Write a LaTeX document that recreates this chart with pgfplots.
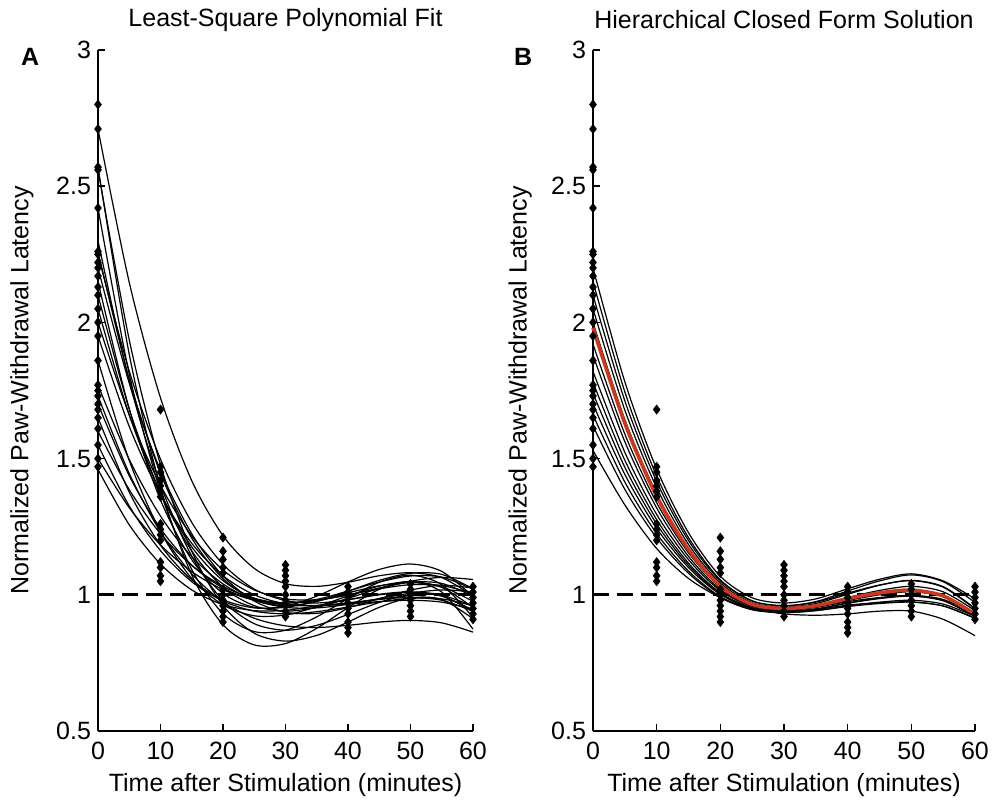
\documentclass[border=0pt]{standalone}
\usepackage{fontspec}
\setmainfont{Liberation Sans}
\usepackage{pgfplots}
\usepackage{pgfplotstable}
\pgfplotsset{compat=1.18}
\definecolor{fitred}{RGB}{200,58,32}

% measured points (same animals in both panels)
\pgfplotstableread{
x y
0 2.80
0 2.71
0 2.57
0 2.56
0 2.42
0 2.26
0 2.25
0 2.22
0 2.20
0 2.17
0 2.13
0 2.10
0 2.05
0 2.00
0 1.95
0 1.86
0 1.77
0 1.75
0 1.73
0 1.70
0 1.68
0 1.65
0 1.61
0 1.55
0 1.50
0 1.47
10 1.68
10 1.47
10 1.45
10 1.42
10 1.40
10 1.38
10 1.36
10 1.26
10 1.24
10 1.22
10 1.20
10 1.12
10 1.10
10 1.07
10 1.05
20 1.21
20 1.16
20 1.13
20 1.10
20 1.08
20 1.02
20 1.00
20 0.98
20 0.96
20 0.94
20 0.92
20 0.90
30 1.11
30 1.09
30 1.07
30 1.05
30 1.03
30 1.00
30 0.98
30 0.96
30 0.94
30 0.92
40 1.03
40 1.01
40 0.99
40 0.97
40 0.95
40 0.93
40 0.90
40 0.88
40 0.86
50 1.04
50 1.02
50 1.00
50 0.98
50 0.96
50 0.94
50 0.92
60 1.03
60 1.01
60 0.99
60 0.97
60 0.95
60 0.93
60 0.91
}\pts

% individual least-square fits, panel A
\pgfplotstableread{
x  A1    A2    A3    A4    A5    A6    A7    A8    A9    A10   A11   A12   A13   A14   A15   A16   A17   A18   A19   A20   A21   A22
0  2.710 2.570 2.560 2.420 2.260 2.250 2.200 2.150 2.100 2.050 1.950 1.860 1.770 1.730 1.700 1.650 1.600 1.550 1.500 1.460 2.300 2.000
5  2.147 1.883 1.936 1.811 1.791 1.821 1.777 1.682 1.682 1.660 1.618 1.493 1.497 1.445 1.437 1.377 1.386 1.326 1.320 1.257 1.784 1.660
10 1.723 1.394 1.477 1.378 1.446 1.498 1.456 1.348 1.374 1.374 1.368 1.232 1.289 1.231 1.243 1.182 1.224 1.162 1.183 1.113 1.405 1.402
15 1.419 1.073 1.160 1.093 1.208 1.266 1.224 1.129 1.161 1.176 1.189 1.060 1.140 1.077 1.109 1.055 1.108 1.048 1.085 1.018 1.142 1.216
20 1.217 0.890 0.961 0.931 1.059 1.112 1.069 1.005 1.028 1.052 1.070 0.963 1.040 0.974 1.025 0.982 1.031 0.977 1.019 0.964 0.978 1.091
25 1.097 0.816 0.859 0.865 0.982 1.021 0.977 0.954 0.960 0.988 1.000 0.923 0.980 0.914 0.982 0.952 0.986 0.940 0.980 0.942 0.894 1.018
30 1.041 0.821 0.830 0.870 0.960 0.979 0.936 0.958 0.940 0.970 0.967 0.926 0.954 0.886 0.970 0.954 0.964 0.930 0.963 0.943 0.870 0.985
35 1.031 0.877 0.851 0.919 0.976 0.970 0.932 0.995 0.954 0.983 0.960 0.956 0.952 0.880 0.979 0.976 0.960 0.938 0.961 0.960 0.888 0.982
40 1.046 0.953 0.900 0.986 1.013 0.982 0.953 1.047 0.987 1.014 0.970 0.996 0.965 0.888 1.000 1.007 0.966 0.955 0.970 0.982 0.928 0.999
45 1.070 1.020 0.954 1.046 1.053 1.000 0.986 1.093 1.023 1.047 0.983 1.032 0.986 0.900 1.022 1.033 0.975 0.974 0.984 1.002 0.972 1.025
50 1.081 1.049 0.989 1.072 1.079 1.009 1.017 1.113 1.046 1.069 0.990 1.048 1.006 0.906 1.037 1.045 0.980 0.987 0.997 1.011 1.001 1.050
55 1.063 1.010 0.983 1.037 1.075 0.995 1.035 1.086 1.042 1.065 0.980 1.027 1.018 0.897 1.034 1.030 0.973 0.985 1.004 0.999 0.996 1.064
60 0.996 0.874 0.912 0.917 1.022 0.944 1.025 0.994 0.995 1.021 0.940 0.954 1.011 0.863 1.005 0.976 0.947 0.960 1.000 0.959 0.938 1.056
}\tabA

% hierarchical fits, panel B (R = population curve)
\pgfplotstableread{
x  B1    B2    B3    B4    B5    B6    B7    B8    B9    B10   B11   B12   B13   B14   R
0  2.200 2.150 2.100 2.050 2.000 1.920 1.880 1.820 1.780 1.740 1.700 1.660 1.620 1.530 1.980
5  1.782 1.745 1.712 1.678 1.643 1.590 1.562 1.523 1.494 1.468 1.442 1.414 1.387 1.330 1.630
10 1.462 1.436 1.416 1.393 1.370 1.338 1.319 1.295 1.276 1.260 1.244 1.225 1.209 1.170 1.362
15 1.228 1.210 1.199 1.185 1.171 1.154 1.141 1.129 1.116 1.108 1.100 1.087 1.079 1.060 1.166
20 1.068 1.055 1.051 1.043 1.034 1.028 1.020 1.015 1.007 1.004 1.001 0.993 0.990 0.990 1.032
25 0.989 0.978 0.977 0.971 0.966 0.965 0.959 0.958 0.953 0.952 0.951 0.946 0.945 0.950 0.965
30 0.970 0.960 0.960 0.955 0.950 0.950 0.945 0.945 0.940 0.940 0.940 0.935 0.935 0.930 0.950
35 0.985 0.975 0.973 0.968 0.961 0.961 0.954 0.955 0.948 0.946 0.948 0.942 0.942 0.925 0.960
40 1.022 1.014 1.006 1.002 0.987 0.990 0.975 0.979 0.969 0.962 0.970 0.957 0.959 0.930 0.986
45 1.057 1.051 1.036 1.035 1.008 1.016 0.990 1.000 0.986 0.971 0.988 0.968 0.973 0.940 1.007
50 1.077 1.073 1.052 1.053 1.018 1.031 0.997 1.011 0.995 0.974 0.998 0.973 0.980 0.940 1.017
55 1.051 1.048 1.028 1.030 0.997 1.011 0.979 0.993 0.978 0.959 0.983 0.959 0.966 0.910 0.996
60 0.985 0.972 0.948 0.950 0.929 0.942 0.921 0.933 0.923 0.913 0.930 0.915 0.921 0.850 0.929
}\tabB

\pgfplotsset{
  panel/.style={
    scale only axis, height=340.5pt,
    xmin=0, xmax=60, ymin=0.5, ymax=3,
    xtick={0,10,...,60}, ytick={0.5,1,...,3},
    axis x line=bottom, axis y line=left,
    axis line style={-, line width=0.9pt},
    tick align=inside, major tick length=3.5pt,
    tick style={line width=0.8pt, black},
    every tick label/.append style={font=\fontsize{12.5}{14}\selectfont},
    /pgf/number format/assume math mode=true,
    xticklabel style={yshift=-2pt},
    label style={font=\fontsize{12.5}{14}\selectfont},
    title style={font=\fontsize{12.5}{14}\selectfont, at={(axis description cs:0.5,1)}, anchor=center, yshift=9pt},
    xlabel={Time after Stimulation (minutes)},
    ylabel={Normalized Paw-Withdrawal Latency},
    xlabel style={at={(axis description cs:0.5,-0.079)}, anchor=center},
    clip=false,
  },
  fit/.style={black, line width=0.6pt, smooth, no marks},
  pts/.style={only marks, mark=diamond*, mark size=2.2pt, black},
  base/.style={black, dashed, line width=1.5pt, dash pattern=on 8pt off 4pt},
}

\begin{document}
\begin{tikzpicture}
  \path[use as bounding box] (-49pt,-37pt) rectangle (447pt,365.5pt);

  \begin{axis}[panel, width=187.5pt, at={(0pt,0pt)}, anchor=south west,
      title={Least-Square Polynomial Fit},
      ylabel style={at={(axis description cs:-0.203,0.5)}, anchor=center}]
    \pgfplotsinvokeforeach{1,...,22}{
      \addplot[fit] table[x=x, y=A#1] {\tabA};
    }
    \addplot[pts] table[x=x, y=y] {\pts};
    \addplot[base] coordinates {(0,1) (60,1)};
    \node[font=\fontsize{12.5}{14}\selectfont\bfseries] at (axis description cs:-0.181,0.99) {A};
  \end{axis}

  \begin{axis}[panel, width=191pt, at={(247.5pt,0pt)}, anchor=south west,
      title={Hierarchical Closed Form Solution},
      ylabel style={at={(axis description cs:-0.191,0.5)}, anchor=center}]
    \pgfplotsinvokeforeach{1,...,14}{
      \addplot[fit] table[x=x, y=B#1] {\tabB};
    }
    \addplot[pts] table[x=x, y=y] {\pts};
    \addplot[base] coordinates {(0,1) (60,1)};
    \addplot[fitred, line width=1.8pt, smooth, no marks] table[x=x, y=R] {\tabB};
    \node[font=\fontsize{12.5}{14}\selectfont\bfseries] at (axis description cs:-0.183,0.99) {B};
  \end{axis}
\end{tikzpicture}
\end{document}
